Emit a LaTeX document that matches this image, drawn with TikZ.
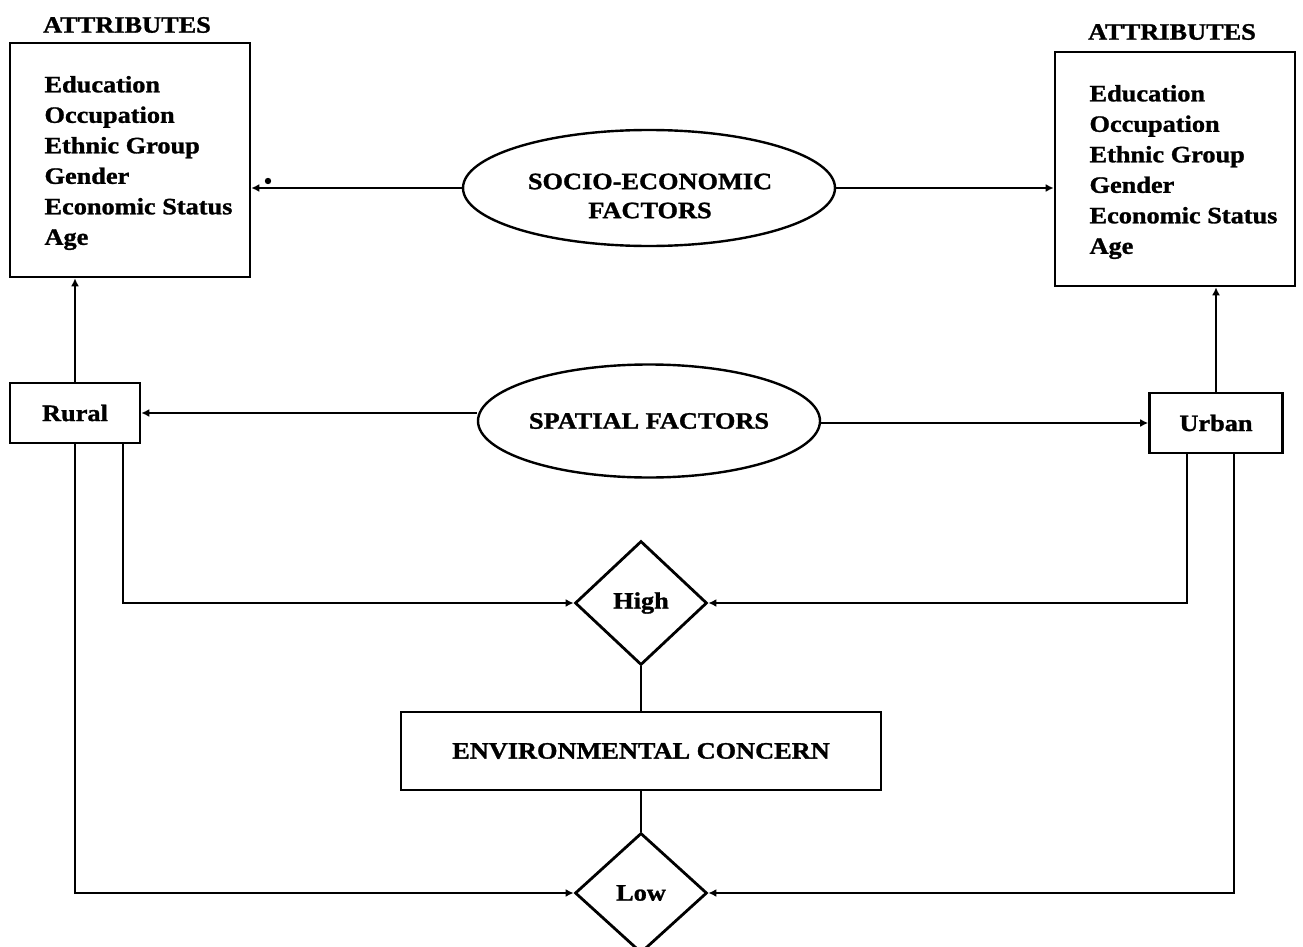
\documentclass[tikz,border=0pt]{standalone}
\usepackage{fontspec}
\setmainfont{Liberation Serif}[FakeStretch=1.12, BoldFeatures={FakeBold=1.2}]
\usetikzlibrary{shapes.geometric,arrows.meta}
\begin{document}
\begin{tikzpicture}[x=1pt,y=-1pt,
  every node/.style={font=\bfseries\fontsize{23.5}{30.5}\selectfont},
  box/.style={draw, rectangle, inner sep=0pt, line width=2.6pt},
  oval/.style={draw, ellipse, inner sep=0pt, line width=2.4pt},
  dmd/.style={draw, diamond, inner sep=0pt, line width=2.8pt, minimum width=132pt, minimum height=124pt},
  conn/.style={line width=2.4pt},
  arr/.style={conn,-{Latex[length=8pt,width=8pt]}}]
\useasboundingbox (0,0) rectangle (1303,947);

% attribute boxes
\node[box, minimum width=240pt, minimum height=234pt] (lbox) at (130,160) {};
\node[anchor=west, align=left] (ltext) at (41,163) {Education\\Occupation\\Ethnic Group\\Gender\\Economic Status\\Age};
\node (lattr) at (127,25) {ATTRIBUTES};

\node[box, minimum width=240pt, minimum height=234pt] (rbox) at (1175,169) {};
\node[anchor=west, align=left] (rtext) at (1086,172) {Education\\Occupation\\Ethnic Group\\Gender\\Economic Status\\Age};
\node (rattr) at (1172,32) {ATTRIBUTES};

% ellipses
\node[oval, minimum width=372pt, minimum height=116pt] (soc) at (649,188) {};
\node[align=center, font=\bfseries\fontsize{23.5}{29}\selectfont] (soctext) at (650,196) {SOCIO-ECONOMIC\\FACTORS};
\node[oval, minimum width=342pt, minimum height=113pt] (sp) at (649,421) {SPATIAL FACTORS};

% rural / urban
\node[box, minimum width=130pt, minimum height=60pt] (rural) at (75,413) {Rural};
\node[box, minimum width=133pt, minimum height=60pt] (urban) at (1216,423) {Urban};

% diamonds and concern box
\node[dmd] (high) at (641,603) {High};
\node[box, minimum width=480pt, minimum height=78pt] (env) at (641,751) {ENVIRONMENTAL CONCERN};
\node[dmd, minimum height=120pt] (low) at (641,893) {Low};

% connectors
\draw[arr] (soc.west) -- (soc.west -| lbox.east);
\fill (268,181) circle (3.2pt);
\draw[arr] (soc.east) -- (soc.east -| rbox.west);
\draw[arr] (rural.east -| sp.west) -- (rural.east);
\draw[arr] (urban.west -| sp.east) -- (urban.west);
\draw[arr] (rural.north) -- (rural.north |- lbox.south);
\draw[arr] (urban.north) -- (urban.north |- rbox.south);
\draw[arr] ([xshift=48pt]rural.south) |- (high.west);
\draw[arr] (rural.south) |- (low.west);
\draw[arr] ([xshift=-29pt]urban.south) |- (high.east);
\draw[arr] ([xshift=18pt]urban.south) |- (low.east);
\draw[conn] (high.south) -- (env.north);
\draw[conn] (env.south) -- (low.north);
\end{tikzpicture}
\end{document}
